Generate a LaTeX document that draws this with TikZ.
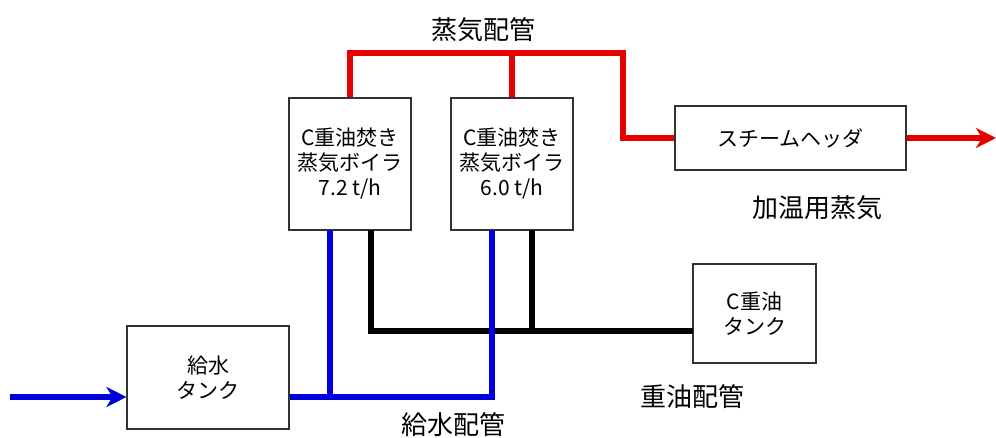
\documentclass[tikz,border=0pt]{standalone}
\usepackage{fontspec}
\setmainfont{Noto Sans CJK JP}
\usetikzlibrary{arrows.meta}
\definecolor{steamred}{RGB}{230,0,0}
\definecolor{waterblue}{RGB}{0,0,220}
\definecolor{boxline}{RGB}{50,50,50}
\begin{document}
\begin{tikzpicture}[x=1pt,y=-1pt,
  box/.style={draw=boxline,line width=1.1pt,fill=white,inner sep=0pt,align=center,
    font=\fontsize{21}{25}\selectfont},
  lbl/.style={inner sep=0pt,font=\fontsize{26}{28}\selectfont},
  steam/.style={draw=steamred,line width=6.5pt,line join=miter},
  water/.style={draw=waterblue,line width=6.5pt,line join=miter},
  oil/.style={draw=black,line width=6.5pt,line join=miter},
  tip/.style={-{Stealth[length=20pt,width=20pt,inset=6pt]}}]
\useasboundingbox (0,0) rectangle (996,438);
% nodes
\node[box,minimum width=122pt,minimum height=132pt] (b1) at (350,164) {C重油焚き\\蒸気ボイラ\\7.2 t/h};
\node[box,minimum width=122pt,minimum height=132pt] (b2) at (512,164) {C重油焚き\\蒸気ボイラ\\6.0 t/h};
\node[box,minimum width=231pt,minimum height=64pt] (sh) at (790.5,138) {スチームヘッダ};
\node[box,minimum width=162pt,minimum height=103pt] (tank) at (208,377.5) {給水\\タンク};
\node[box,minimum width=123pt,minimum height=99pt] (ct) at (754.5,313.5) {C重油\\タンク};
% labels
\node[lbl] (l1) at (483,30) {蒸気配管};
\node[lbl] (l2) at (817,208) {加温用蒸気};
\node[lbl] (l3) at (692,397) {重油配管};
\node[lbl] (l4) at (453,425) {給水配管};
% coordinates
\coordinate (rtop) at (623,53);
\coordinate (out) at (996,138);
\coordinate (in) at (10,397);
\coordinate (b1w) at (330,230);
\coordinate (b2w) at (492,230);
\coordinate (b1o) at (371,230);
\coordinate (b2o) at (532,230);
\coordinate (oe) at (693,331);
% steam
\draw[steam] (b1.north) |- (rtop) |- (sh.west);
\draw[steam] (b2.north) -- (b2.north |- rtop);
\draw[steam,tip] (sh.east) -- (out);
% oil
\draw[oil] (b1o) |- (oe);
\draw[oil] (b2o) -- (b2o |- oe);
% water
\draw[water,tip] (in) -- (in -| tank.west);
\draw[water] (in -| tank.east) -| (b2w);
\draw[water] (b1w) -- (b1w |- in);
\end{tikzpicture}
\end{document}
